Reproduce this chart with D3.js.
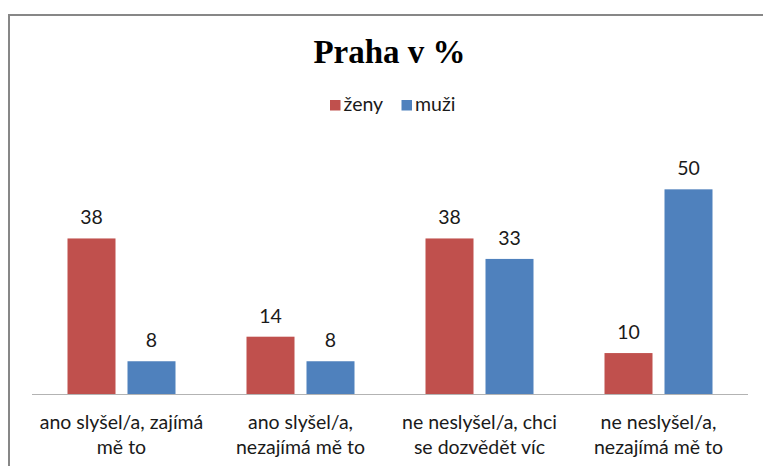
<!DOCTYPE html>
<meta charset="utf-8">
<script src="https://d3js.org/d3.v7.min.js"></script>
<body style="margin:0;background:#fff">
<div id="chart"></div>
<script>
// data
var categories = ["ano slyšel/a, zajímá\nmě to", "ano slyšel/a,\nnezajímá mě to", "ne neslyšel/a, chci\nse dozvědět víc", "ne neslyšel/a,\nnezajímá mě to"];
var series = ["ženy", "muži"];
var zeny = [38, 14, 38, 10];
var muzi = [8, 8, 33, 50];
var colors = ["#C0504D", "#4F81BD"];

var width = 763, height = 466;
var svg = d3.select("#chart").append("svg")
  .attr("width", width)
  .attr("height", height);

// outer frame (runs off the right and bottom edge)
svg.append("rect")
  .attr("x", 9).attr("y", 15)
  .attr("width", 800).attr("height", 500)
  .attr("fill", "none")
  .attr("stroke", "#878787")
  .attr("stroke-width", 2);

var plot = {left: 32, right: 748, bottom: 394, top: 148.4};

var x0 = d3.scaleBand().domain(categories).range([plot.left, plot.right]);
var groupW = 108;
var x1 = d3.scaleBand().domain(series).range([0, groupW]).paddingInner(0.2);
var y = d3.scaleLinear().domain([0, 60]).range([plot.bottom, plot.top]);

var rows = categories.map(function(c, i) {
  return {cat: c, values: [zeny[i], muzi[i]]};
});

var groups = svg.append("g").selectAll("g")
  .data(rows)
  .enter().append("g")
  .attr("transform", function(d) {
    return "translate(" + (x0(d.cat) + (x0.bandwidth() - groupW) / 2) + ",0)";
  });

groups.selectAll("rect")
  .data(function(d) { return d.values.map(function(v, j) { return {s: series[j], v: v, j: j}; }); })
  .enter().append("rect")
  .attr("x", function(d) { return x1(d.s); })
  .attr("y", function(d) { return y(d.v); })
  .attr("width", x1.bandwidth())
  .attr("height", function(d) { return y(0) - y(d.v); })
  .attr("fill", function(d) { return colors[d.j]; });

groups.selectAll("text")
  .data(function(d) { return d.values.map(function(v, j) { return {s: series[j], v: v}; }); })
  .enter().append("text")
  .attr("x", function(d) { return x1(d.s) + x1.bandwidth() / 2; })
  .attr("y", function(d) { return y(d.v) - 14; })
  .attr("text-anchor", "middle")
  .attr("font-family", "Lato")
  .attr("font-size", 19.5)
  .attr("fill", "#1a1a1a")
  .text(function(d) { return d.v; });

// x axis line
svg.append("line")
  .attr("x1", plot.left).attr("x2", plot.right)
  .attr("y1", plot.bottom + 0.5).attr("y2", plot.bottom + 0.5)
  .attr("stroke", "#b3b3b3")
  .attr("stroke-width", 1.2);

// category labels, two lines each
var catLabels = svg.append("g").selectAll("text")
  .data(categories)
  .enter().append("text")
  .attr("text-anchor", "middle")
  .attr("font-family", "Lato")
  .attr("font-size", 19.5)
  .attr("fill", "#1a1a1a");
catLabels.selectAll("tspan")
  .data(function(d) { return d.split("\n").map(function(l) { return {l: l, c: d}; }); })
  .enter().append("tspan")
  .attr("x", function(d) { return x0(d.c) + x0.bandwidth() / 2; })
  .attr("y", function(d, i) { return 429 + i * 25; })
  .text(function(d) { return d.l; });

// title
svg.append("text")
  .attr("x", 389.5)
  .attr("y", 63)
  .attr("text-anchor", "middle")
  .attr("font-family", "Liberation Serif")
  .attr("font-weight", "bold")
  .attr("font-size", 33)
  .attr("fill", "#000")
  .text("Praha v %");

// legend
var legendX = [330, 401.5];
var legend = svg.append("g").selectAll("g")
  .data(series)
  .enter().append("g")
  .attr("transform", function(d, i) { return "translate(" + legendX[i] + ",100)"; });
legend.append("rect")
  .attr("width", 10.5).attr("height", 10.5)
  .attr("fill", function(d, i) { return colors[i]; });
legend.append("text")
  .attr("x", 13.5)
  .attr("y", 11)
  .attr("font-family", "Lato")
  .attr("font-size", 19.5)
  .attr("fill", "#1a1a1a")
  .text(function(d) { return d; });
</script>
</body>
